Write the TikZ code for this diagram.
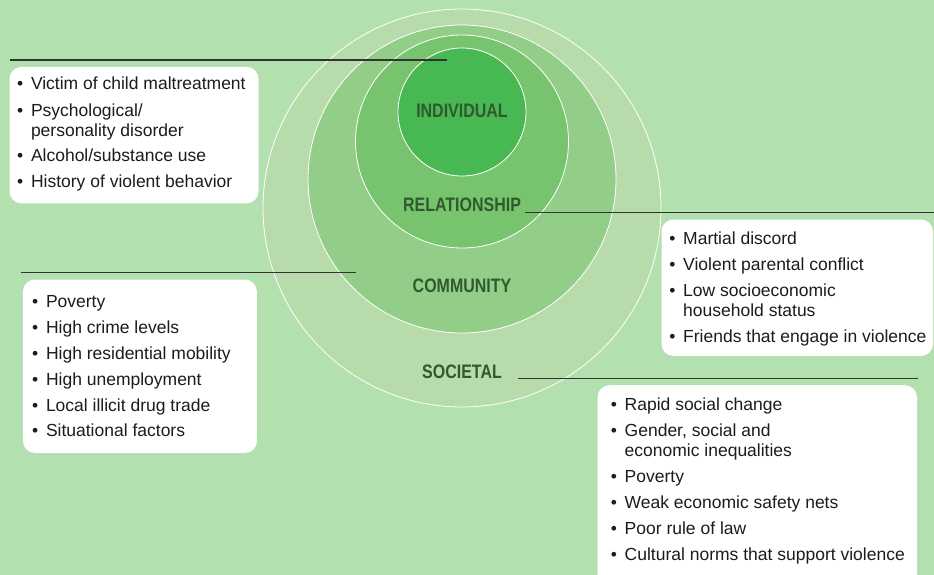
\documentclass[tikz,border=0pt]{standalone}
\usepackage{fontspec}
\setmainfont{Liberation Sans}
\newfontfamily\lblfont[FakeStretch=0.82]{Liberation Sans}
\definecolor{bg}{RGB}{178,224,174}
\definecolor{soc}{RGB}{183,219,170}
\definecolor{com}{RGB}{147,206,137}
\definecolor{rel}{RGB}{120,195,110}
\definecolor{ind}{RGB}{72,184,83}
\definecolor{lbl}{RGB}{46,90,46}
\definecolor{txt}{RGB}{28,28,28}
\newcommand\bodyfont{\fontsize{17.5}{20}\selectfont}
\newcommand\bitem[3]{%
  \node[bl] (#1b) at (0,#2) {\textbullet};
  \node[tx] (#1) at (10.5,#2) {#3};}
\newcommand\bcont[3]{\node[tx] (#1) at (10.5,#2) {#3};}
\begin{document}
\begin{tikzpicture}[x=1pt,y=-1pt,
  ring/.style={circle, draw=white, line width=0.8pt, inner sep=0pt},
  lab/.style={font=\lblfont\bfseries\fontsize{19.5}{20}\selectfont, text=lbl, inner sep=0pt},
  box/.style={fill=white, rounded corners=12pt, inner sep=0pt, anchor=north west},
  leader/.style={draw=black!80, line width=1.2pt},
  bl/.style={anchor=base, inner sep=0pt, font=\bodyfont, text=txt},
  tx/.style={anchor=base west, inner sep=0pt, font=\bodyfont, text=txt}]
\fill[bg] (0,0) rectangle (934,575);
\useasboundingbox (0,0) rectangle (934,575);
% circles
\node[ring, fill=soc, minimum size=398pt] (csoc) at (462,208) {};
\node[ring, fill=com, minimum size=308pt] (ccom) at (462,179) {};
\node[ring, fill=rel, minimum size=213pt] (crel) at (462,141.5) {};
\node[ring, fill=ind, minimum size=128pt] (cind) at (462,112) {};
% labels
\node[lab] (lind) at (462,111) {INDIVIDUAL};
\node[lab] (lrel) at (462,204.5) {RELATIONSHIP};
\node[lab] (lcom) at (462,286) {COMMUNITY};
\node[lab] (lsoc) at (462,372) {SOCIETAL};
% leader lines
\coordinate (iL) at (10,60);  \coordinate (iR) at (447,60);
\coordinate (rL) at (525,212.5); \coordinate (rR) at (934,212.5);
\coordinate (cL) at (21,272.3); \coordinate (cR) at (356,272.3);
\coordinate (sL) at (518,378.5); \coordinate (sR) at (918,378.5);
\draw[leader] (iL) -- (iR);
\draw[leader] (rL) -- (rR);
\draw[leader] (cL) -- (cR);
\draw[leader] (sL) -- (sR);
% boxes
\node[box, minimum width=249pt, minimum height=136.5pt] (ibox) at (9.3,66.7) {};
\node[box, minimum width=234pt, minimum height=173.5pt] (cbox) at (22.7,279.3) {};
\node[box, minimum width=271.5pt, minimum height=136.5pt] (rbox) at (661.3,219.3) {};
\node[box, minimum width=319.5pt, minimum height=200pt] (sbox) at (597.3,385) {};
% individual list
\begin{scope}[shift={(20.3,0)}]
\bitem{i1}{90}{Victim of child maltreatment}
\bitem{i2}{116.5}{Psychological/}
\bcont{i2b}{136}{personality disorder}
\bitem{i3}{161}{Alcohol/substance use}
\bitem{i4}{187}{History of violent behavior}
\end{scope}
% community list
\begin{scope}[shift={(35.3,0)}]
\bitem{c1}{307.3}{Poverty}
\bitem{c2}{333.3}{High crime levels}
\bitem{c3}{359.3}{High residential mobility}
\bitem{c4}{385}{High unemployment}
\bitem{c5}{411}{Local illicit drug trade}
\bitem{c6}{436.7}{Situational factors}
\end{scope}
% relationship list
\begin{scope}[shift={(672.5,0)}]
\bitem{r1}{244}{Martial discord}
\bitem{r2}{270}{Violent parental conflict}
\bitem{r3}{296}{Low socioeconomic}
\bcont{r3b}{316}{household status}
\bitem{r4}{342}{Friends that engage in violence}
\end{scope}
% societal list
\begin{scope}[shift={(614,0)}]
\bitem{s1}{410.7}{Rapid social change}
\bitem{s2}{436.7}{Gender, social and}
\bcont{s2b}{456.7}{economic inequalities}
\bitem{s3}{482}{Poverty}
\bitem{s4}{508.3}{Weak economic safety nets}
\bitem{s5}{534}{Poor rule of law}
\bitem{s6}{560}{Cultural norms that support violence}
\end{scope}
\end{tikzpicture}
\end{document}
